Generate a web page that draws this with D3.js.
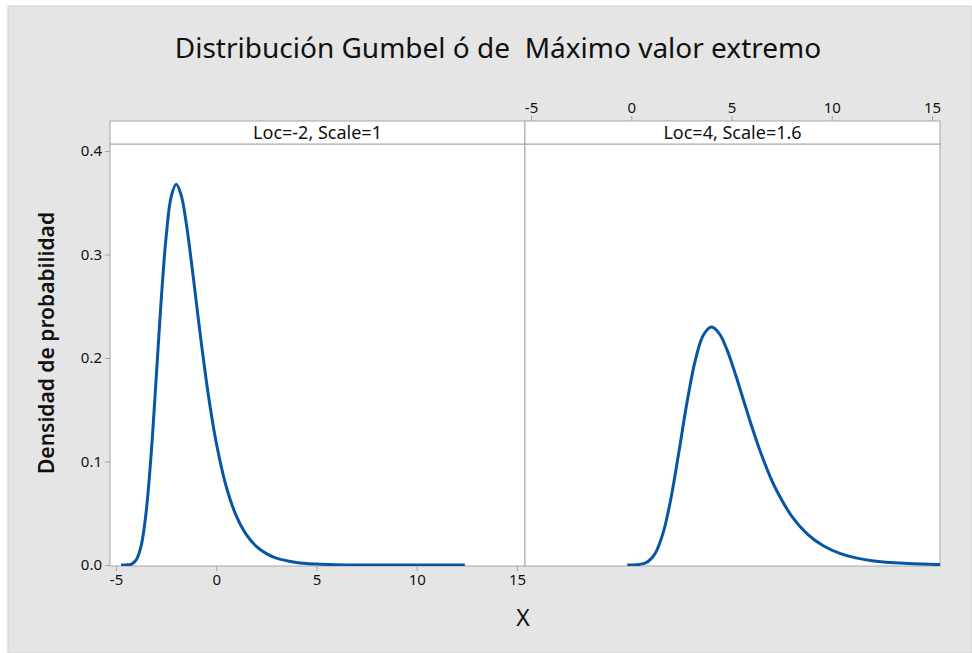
<!DOCTYPE html>
<html>
<head>
<meta charset="utf-8">
<script src="https://cdn.jsdelivr.net/npm/d3@7"></script>
<style>
  body { margin: 0; background: #fff; }
  text { font-family: "Segoe UI", "Noto Sans", sans-serif; fill: #111; }
</style>
</head>
<body>
<div id="chart"></div>
<script>
"use strict";

// panel titles
var panels = ["Loc=-2, Scale=1", "Loc=4, Scale=1.6"];

// curve 1 (Loc=-2, Scale=1)
var xLeft = [-4.75, -4.5, -4.25, -4.0, -3.75, -3.5, -3.25, -3.0, -2.75, -2.5, -2.25, -2.0,
    -1.75, -1.5, -1.25, -1.0, -0.75, -0.5, -0.25, 0.0, 0.5, 1.0, 1.5, 2.0, 2.5, 3.0,
    4.0, 5.0, 6.0, 8.0, 12.4];
var yLeft = [0.0000, 0.0001, 0.0007, 0.0046, 0.0182, 0.0507, 0.1064, 0.1794, 0.2549, 0.3170, 0.3556, 0.3679,
    0.3574, 0.3307, 0.2945, 0.2547, 0.2151, 0.1785, 0.1461, 0.1182, 0.0756, 0.0474, 0.0293, 0.0180, 0.0110, 0.0067,
    0.0025, 0.0009, 0.0003, 0.0000, 0.0000];

// curve 2 (Loc=4, Scale=1.6)
var xRight = [-0.2, 0.0, 0.4, 0.8, 1.2, 1.6, 2.0, 2.4, 2.8, 3.2, 3.6, 4.0,
    4.4, 4.8, 5.2, 5.6, 6.0, 6.4, 6.8, 7.2, 8.0, 8.8, 9.6, 10.4, 11.2, 12.0,
    13.6, 15.2, 15.6];
var yRight = [0.0000, 0.0000, 0.0005, 0.0029, 0.0114, 0.0317, 0.0665, 0.1121, 0.1593, 0.1982, 0.2222, 0.2299,
    0.2234, 0.2067, 0.1841, 0.1592, 0.1345, 0.1116, 0.0913, 0.0739, 0.0473, 0.0296, 0.0183, 0.0112, 0.0069, 0.0042,
    0.0016, 0.0006, 0.0004];

var xTicks = [-5, 0, 5, 10, 15];
var yTicks = [0.0, 0.1, 0.2, 0.3, 0.4];

var w = 972;
var h = 653;
var left = 110, panelW = 415;
var stripTop = 121, plotTop = 144, plotBottom = 566;
var blue = "#0756a6";
var frame = "#a6a6a6";

var svg = d3.select("#chart")
    .append("svg")
    .attr("width", w)
    .attr("height", h);

// gray background
svg.append("rect")
    .attr("x", 8).attr("y", 6)
    .attr("width", w - 8).attr("height", h - 6)
    .attr("fill", "#e5e5e5")
    .attr("stroke", "#d2d2d2");

// title
svg.append("text")
    .attr("x", 498).attr("y", 58)
    .attr("text-anchor", "middle")
    .style("font-size", "28px")
    .style("white-space", "pre")
    .text("Distribución Gumbel ó de  Máximo valor extremo");

var y = d3.scaleLinear()
    .domain([0, 0.4068])
    .range([plotBottom - 1, plotTop]);

var series = [
    { x: xLeft, y: yLeft },
    { x: xRight, y: yRight }
];

svg.append("defs").selectAll("clipPath")
    .data(panels)
    .enter()
    .append("clipPath")
    .attr("id", function (d, i) { return "clip" + i; })
    .append("rect")
    .attr("x", function (d, i) { return left + i * panelW; })
    .attr("y", plotTop)
    .attr("width", panelW)
    .attr("height", plotBottom - plotTop);

panels.forEach(function (title, i) {
    var x0 = left + i * panelW;
    var x = d3.scaleLinear()
        .domain([-5.3, 15.4])
        .range([x0, x0 + panelW]);

    // plot area
    svg.append("rect")
        .attr("x", x0).attr("y", plotTop)
        .attr("width", panelW).attr("height", plotBottom - plotTop)
        .attr("fill", "#fff")
        .attr("stroke", frame);

    // strip
    svg.append("rect")
        .attr("x", x0).attr("y", stripTop)
        .attr("width", panelW).attr("height", plotTop - stripTop)
        .attr("fill", "#fff")
        .attr("stroke", frame);
    svg.append("text")
        .attr("x", x0 + panelW / 2).attr("y", stripTop + 18)
        .attr("text-anchor", "middle")
        .style("font-size", "18px")
        .text(title);

    // line
    var pts = series[i].x.map(function (v, k) { return [v, series[i].y[k]]; });
    var line = d3.line()
        .x(function (d) { return x(d[0]); })
        .y(function (d) { return y(d[1]); })
        .curve(d3.curveCatmullRom);
    svg.append("path")
        .datum(pts)
        .attr("clip-path", "url(#clip" + i + ")")
        .attr("d", line)
        .attr("fill", "none")
        .attr("stroke", blue)
        .attr("stroke-width", 3);

    // x axis: bottom on left panel, top on right panel
    var ax = (i === 0 ? d3.axisBottom(x) : d3.axisTop(x))
        .tickValues(xTicks)
        .tickFormat(function (d) { return String(d); })
        .tickSize(5)
        .tickPadding(3);
    var g = svg.append("g")
        .attr("transform", "translate(0," + (i === 0 ? plotBottom : stripTop) + ")")
        .call(ax);
    g.select(".domain").remove();
    g.selectAll("line").attr("stroke", frame);
    g.selectAll("text").style("font-size", "15px").attr("fill", "#222");
});

// y axis
var gy = svg.append("g")
    .attr("transform", "translate(" + left + ",0)")
    .call(d3.axisLeft(y).tickValues(yTicks).tickFormat(function (d) { return d.toFixed(1); }).tickSize(5).tickPadding(3));
gy.select(".domain").remove();
gy.selectAll("line").attr("stroke", frame);
gy.selectAll("text").style("font-size", "15px").attr("fill", "#222");

// axis labels
svg.append("text")
    .attr("transform", "translate(54,343) rotate(-90)")
    .attr("text-anchor", "middle")
    .style("font-size", "21px")
    .style("font-weight", "600")
    .text("Densidad de probabilidad");

svg.append("text")
    .attr("x", 523).attr("y", 626)
    .attr("text-anchor", "middle")
    .style("font-size", "23px")
    .text("X");
</script>
</body>
</html>
